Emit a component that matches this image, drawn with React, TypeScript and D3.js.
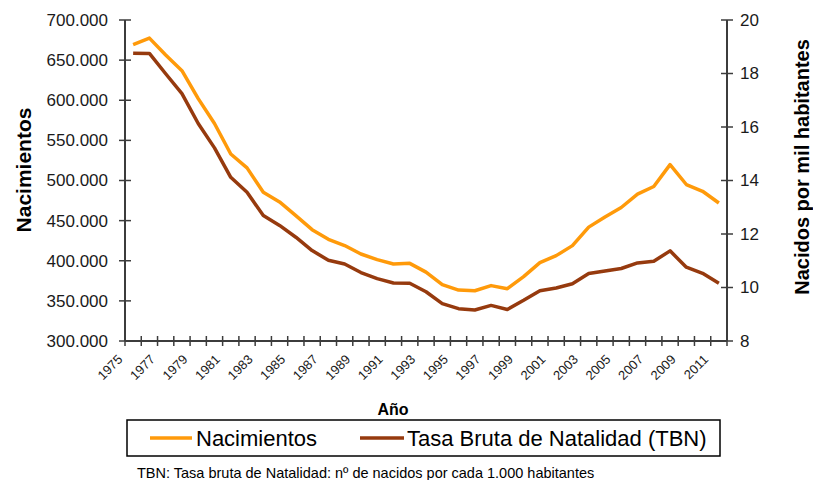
import * as d3 from "d3";

// Años 1975-2011
const YEARS = d3.range(1975, 2012);

// Nacimientos (eje izquierdo)
const NACIMIENTOS = [
  669378, 677456, 656357, 636892, 601992, 571018, 533008, 515706, 485352, 473281,
  456298, 438750, 426782, 418919, 408434, 401425, 395989, 396747, 385786, 370148,
  363469, 362626, 369035, 365193, 380130, 397632, 406380, 418846, 441881, 454591,
  466371, 482957, 492527, 519779, 494997, 486575, 471999,
];

// Tasa Bruta de Natalidad (eje derecho)
const TBN = [
  18.76, 18.75, 17.99, 17.25, 16.13, 15.22, 14.12, 13.56, 12.69, 12.32,
  11.88, 11.38, 11.02, 10.88, 10.56, 10.33, 10.17, 10.16, 9.84, 9.4,
  9.21, 9.16, 9.33, 9.18, 9.52, 9.88, 9.98, 10.14, 10.52, 10.62,
  10.71, 10.92, 10.98, 11.37, 10.76, 10.53, 10.16,
];

const LEFT_TICKS = [300000, 350000, 400000, 450000, 500000, 550000, 600000, 650000, 700000];
const RIGHT_TICKS = [8, 10, 12, 14, 16, 18, 20];
const LABEL_YEARS = YEARS.filter((y) => (y - 1975) % 2 === 0);

const ORANGE = "#FF9A0A";
const BROWN = "#963A0E";
const AXIS = "#3c3c3c";
const FONT = "'Liberation Sans', Arial, sans-serif";

const es = d3.formatLocale({ decimal: ",", thousands: ".", grouping: [3], currency: ["", " €"] });
const fmt = es.format(",d");

export default function App() {
  const W = 813;
  const H = 480;
  const left = 125, right = 727, top = 20, bottom = 341;

  const x = d3.scaleBand<number>().domain(YEARS).range([left, right]).padding(0);
  const bw = x.bandwidth();
  const cx = (y: number) => (x(y) as number) + bw / 2;
  const yL = d3.scaleLinear().domain([300000, 700000]).range([bottom, top]);
  const yR = d3.scaleLinear().domain([8, 20]).range([bottom, top]);

  const lineL = d3.line<number>().x((_, i) => cx(YEARS[i])).y((d) => yL(d));
  const lineR = d3.line<number>().x((_, i) => cx(YEARS[i])).y((d) => yR(d));

  const tickXs = YEARS.map((y) => x(y) as number).concat([right]);

  return (
    <svg
      width={W}
      height={H}
      style={{ position: "absolute", left: 0, top: 0, background: "#fff" }}
      fontFamily={FONT}
    >
      {/* series */}
      <path d={lineL(NACIMIENTOS) || ""} fill="none" stroke={ORANGE} strokeWidth={3.5} strokeLinejoin="round" />
      <path d={lineR(TBN) || ""} fill="none" stroke={BROWN} strokeWidth={3.5} strokeLinejoin="round" />

      {/* axes */}
      <g stroke={AXIS} strokeWidth={2}>
        <line x1={left} x2={left} y1={top} y2={bottom} />
        <line x1={right} x2={right} y1={top} y2={bottom} />
        <line x1={left} x2={right} y1={bottom} y2={bottom} />
      </g>
      <g stroke={AXIS} strokeWidth={1.5}>
        {LEFT_TICKS.map((t) => (
          <line key={"l" + t} x1={left - 6} x2={left + 6} y1={yL(t)} y2={yL(t)} />
        ))}
        {RIGHT_TICKS.map((t) => (
          <line key={"r" + t} x1={right - 6} x2={right + 6} y1={yR(t)} y2={yR(t)} />
        ))}
        {tickXs.map((tx, i) => (
          <line key={"x" + i} x1={tx} x2={tx} y1={bottom - 5} y2={bottom + 5} />
        ))}
      </g>

      {/* tick labels */}
      <g fontSize={17} fill="#1a1a1a">
        {LEFT_TICKS.map((t) => (
          <text key={"lt" + t} x={108} y={yL(t)} dy="0.35em" textAnchor="end">
            {fmt(t)}
          </text>
        ))}
        {RIGHT_TICKS.map((t) => (
          <text key={"rt" + t} x={740} y={yR(t)} dy="0.35em">
            {t}
          </text>
        ))}
      </g>
      <g fontSize={13} fill="#1a1a1a">
        {LABEL_YEARS.map((yr) => {
          const ax = cx(yr) - 13;
          const ay = 357;
          return (
            <text
              key={"xt" + yr}
              x={ax}
              y={ay}
              dy="0.35em"
              textAnchor="end"
              transform={`rotate(-45 ${ax} ${ay})`}
            >
              {yr}
            </text>
          );
        })}
      </g>

      {/* axis titles */}
      <text
        transform="translate(31,170) rotate(-90)"
        textAnchor="middle"
        fontSize={21}
        fontWeight="bold"
        fill="#000"
      >
        Nacimientos
      </text>
      <text
        transform="translate(809,167) rotate(-90)"
        textAnchor="middle"
        fontSize={20}
        fontWeight="bold"
        fill="#000"
      >
        Nacidos por mil habitantes
      </text>
      <text x={393} y={415} textAnchor="middle" fontSize={16} fontWeight="bold" fill="#000">
        Año
      </text>

      {/* legend */}
      <rect x={127} y={420} width={593} height={36} fill="none" stroke="#000" strokeWidth={1.5} />
      <line x1={150} x2={192} y1={438} y2={438} stroke={ORANGE} strokeWidth={3.5} />
      <text x={196} y={438} dy="0.35em" fontSize={22} fill="#000">
        Nacimientos
      </text>
      <line x1={360} x2={404} y1={438} y2={438} stroke={BROWN} strokeWidth={3.5} />
      <text x={407} y={438} dy="0.35em" fontSize={22} fill="#000">
        Tasa Bruta de Natalidad (TBN)
      </text>

      {/* note */}
      <text x={137} y={478} fontSize={14.5} fill="#000">
        TBN: Tasa bruta de Natalidad: nº de nacidos por cada 1.000 habitantes
      </text>
    </svg>
  );
}
